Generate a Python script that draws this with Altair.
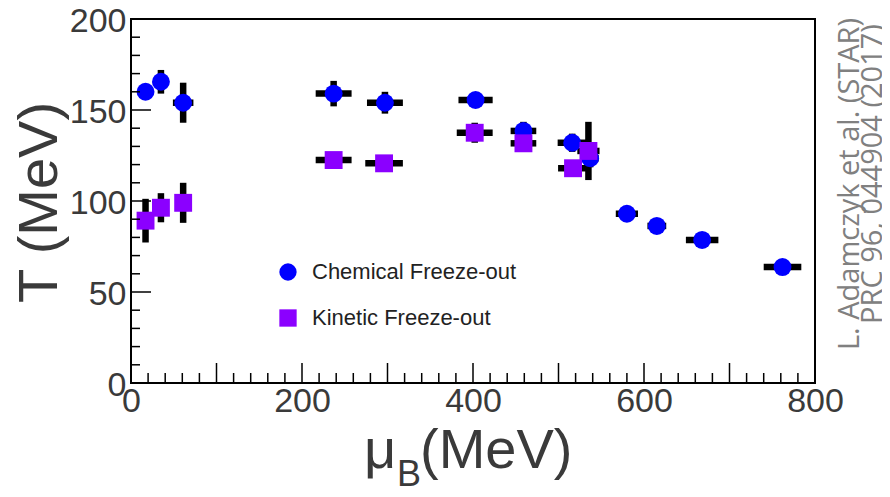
import altair as alt
import pandas as pd

# ---- data ----
chem_mu = [17, 35, 61, 237, 297, 403, 459, 516, 537, 580, 615, 668, 762]
chem_T = [160, 165.5, 154, 159, 154, 155.5, 138.5, 132, 123.5, 93, 86.3, 78.6, 63.7]
chem_xerr = [3, 5, 12, 21, 21, 20, 15, 17, 10, 13, 11, 19, 22]
chem_yerr = [4, 6.5, 11, 7, 6, 4, 5, 5, 5, 3, 3, 3, 3]

kin_mu = [17, 35, 61, 237, 296, 402, 459, 517, 535]
kin_T = [89.2, 96.3, 99, 122.5, 120.7, 137.5, 131.7, 118, 127.5]
kin_xerr = [3, 3, 3, 21, 22, 21, 15, 17.5, 13]
kin_yerr = [12, 8, 11, 3, 3, 5.5, 4, 4, 16]

series_names = ["Chemical Freeze-out", "Kinetic Freeze-out"]
series_colors = ["#0000ff", "#8b00ff"]
series_shapes = ["circle", "square"]

x_labels = [0, 200, 400, 600, 800]
y_labels = [0, 50, 100, 150, 200]
x_major = list(range(0, 801, 100))
x_minor = [v for v in range(0, 801, 20) if v % 100 != 0]
y_major = list(range(0, 201, 50))
y_minor = [v for v in range(0, 201, 10) if v % 50 != 0]

y_title = "T (MeV)"
x_title_main = "μ"
x_title_sub = "B"
x_title_unit = "(MeV)"
ref_line1 = "L. Adamczyk et al. (STAR)"
ref_line2 = "PRC 96, 044904 (2017)"

# ---- tables ----
chem = pd.DataFrame({"mu": chem_mu, "T": chem_T, "xerr": chem_xerr,
                     "yerr": chem_yerr, "series": series_names[0]})
kin = pd.DataFrame({"mu": kin_mu, "T": kin_T, "xerr": kin_xerr,
                    "yerr": kin_yerr, "series": series_names[1]})
df = pd.concat([chem, kin], ignore_index=True)
df["x1"] = df["mu"] - df["xerr"]
df["x2"] = df["mu"] + df["xerr"]
df["y1"] = df["T"] - df["yerr"]
df["y2"] = df["T"] + df["yerr"]

W, H = 684, 364
FONT = "Liberation Sans"
TXT = "#3a3a3a"

xs = alt.Scale(domain=[0, 800], nice=False, zero=False)
ys = alt.Scale(domain=[0, 200], nice=False, zero=False)

xaxis = alt.Axis(values=x_labels, ticks=False, domain=False, grid=False,
                 labelFontSize=34, labelFont=FONT, labelColor=TXT,
                 labelPadding=1, labelFlush=False, format="d")
yaxis = alt.Axis(values=y_labels, ticks=False, domain=False, grid=False,
                 labelFontSize=34, labelFont=FONT, labelColor=TXT,
                 labelPadding=5, labelOffset=2, labelFlush=False, format="d",
                 titleFontSize=56, titleFont=FONT, titleColor=TXT,
                 titleFontWeight="normal", titleAngle=270,
                 titleX=-75, titleY=183, titleAlign="center",
                 titleBaseline="alphabetic")

base = alt.Chart(df)

xbars = base.mark_rule(color="black", strokeWidth=6.5, strokeCap="butt").encode(
    x=alt.X("x1:Q", scale=xs, axis=xaxis, title=""),
    x2="x2:Q",
    y=alt.Y("T:Q", scale=ys, axis=yaxis, title=y_title),
)
ybars = base.mark_rule(color="black", strokeWidth=6.5, strokeCap="butt").encode(
    x=alt.X("mu:Q", scale=xs, title=""),
    y=alt.Y("y1:Q", scale=ys, title=y_title),
    y2="y2:Q",
)

leg = dict(orient="none", legendX=146, legendY=242, title=None,
           labelFontSize=22, labelFont=FONT, labelColor="#222222", labelLimit=0,
           symbolSize=300, symbolStrokeWidth=0, symbolOpacity=1,
           rowPadding=24, labelOffset=13, padding=0)

points = base.mark_point(filled=True, size=320, opacity=1, strokeWidth=0).encode(
    x=alt.X("mu:Q", scale=xs, title=""),
    y=alt.Y("T:Q", scale=ys, title=y_title),
    fill=alt.Fill("series:N", scale=alt.Scale(domain=series_names, range=series_colors),
                  legend=alt.Legend(**leg)),
    shape=alt.Shape("series:N", scale=alt.Scale(domain=series_names, range=series_shapes),
                    legend=alt.Legend(**leg)),
)

def tick_layer(vals, axis, length):
    d = alt.Chart(pd.DataFrame({"v": vals}))
    if axis == "x":
        return d.mark_rule(color="black", strokeWidth=1.5).encode(
            x=alt.X("v:Q", scale=xs, title=""),
            y=alt.value(H), y2=alt.value(H - length))
    return d.mark_rule(color="black", strokeWidth=1.5).encode(
        y=alt.Y("v:Q", scale=ys, title=y_title),
        x=alt.value(0), x2=alt.value(length))

ticks = [tick_layer(x_major, "x", 20), tick_layer(x_minor, "x", 10),
         tick_layer(y_major, "y", 20), tick_layer(y_minor, "y", 9)]

def text_layer(s, x, y, size, align="left", baseline="alphabetic", angle=0,
               font=FONT, color=TXT):
    kw = dict(fontSize=size, font=font, color=color, align=align, baseline=baseline)
    if angle:
        kw["angle"] = angle
    return alt.Chart(pd.DataFrame({"t": [s]})).mark_text(**kw).encode(
        text="t:N", x=alt.value(x), y=alt.value(y))

texts = [
    text_layer(x_title_main, 233, 449, 56),
    text_layer(x_title_sub, 266, 467, 36),
    text_layer(x_title_unit, 289, 449, 56),
    text_layer(ref_line1, 719, 165, 29, align="center", baseline="middle",
               angle=270, font="Open Sans", color="#808080"),
    text_layer(ref_line2, 742, 155, 29, align="center", baseline="middle",
               angle=270, font="Open Sans", color="#808080"),
]

chart = alt.layer(xbars, ybars, points, *ticks, *texts).properties(
    width=W, height=H,
    padding={"left": 123, "top": 11, "right": 67, "bottom": 106},
    autosize=alt.AutoSizeParams(type="none"),
).configure_view(stroke="black", strokeWidth=2)

chart.save("out.html", embed_options={"renderer": "svg", "actions": False})
